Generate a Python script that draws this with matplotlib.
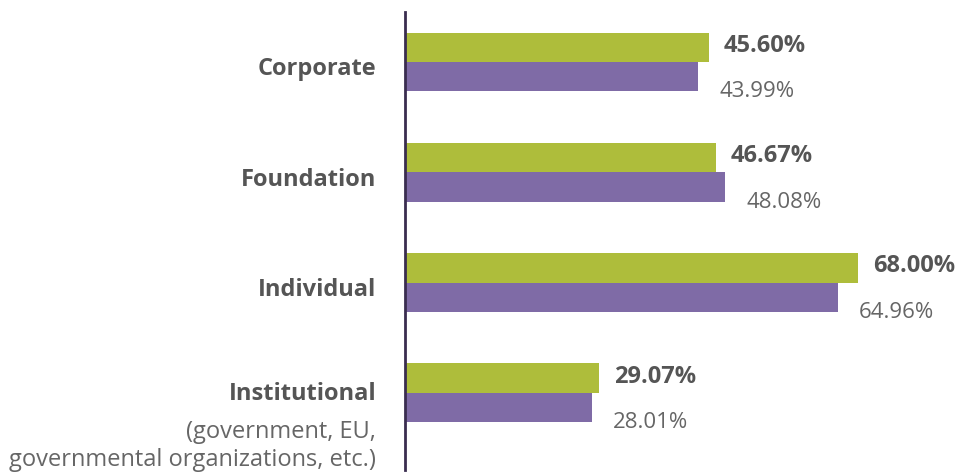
import matplotlib.pyplot as plt
import matplotlib.transforms as mtransforms
import numpy as np

plt.rcParams['font.family'] = ['Open Sans', 'DejaVu Sans']

categorias = ['Corporate', 'Foundation', 'Individual', 'Institutional']
subtitulo_inst = ['(government, EU,', 'governmental organizations, etc.)']
serie_verde = [45.60, 46.67, 68.00, 29.07]
serie_roxa = [43.99, 48.08, 64.96, 28.01]

COR_VERDE = '#AEBD3B'
COR_ROXA = '#7F6BA6'
COR_EIXO = '#3A2D4F'
COR_TEXTO = '#555555'
COR_TEXTO2 = '#666666'

fig = plt.figure(figsize=(9.57, 4.73), dpi=100)
ax = fig.add_axes([405 / 957, 1 - 470 / 473, 1 - 405 / 957, 458 / 473])

y = np.arange(len(categorias))
h = 0.267

bars_v = ax.barh(y - h / 2, serie_verde, height=h, color=COR_VERDE)
bars_r = ax.barh(y + h / 2, serie_roxa, height=h, color=COR_ROXA)

ax.set_xlim(0, 82.9)
ax.set_ylim(3.699, -0.453)

# rótulos de valor
for b in bars_v:
    ax.annotate(f'{b.get_width():.2f}%', xy=(b.get_width(), b.get_y() + b.get_height() / 2),
                xytext=(11, -3.2), textcoords='offset points', ha='left', va='baseline',
                fontsize=17, fontweight='bold', color=COR_TEXTO)
for b in bars_r:
    ax.annotate(f'{b.get_width():.2f}%', xy=(b.get_width(), b.get_y() + b.get_height()),
                xytext=(15.5, -4.3), textcoords='offset points', ha='left', va='baseline',
                fontsize=16, color=COR_TEXTO2)

# rótulos das categorias
trans = mtransforms.blended_transform_factory(ax.transAxes, ax.transData)
for i, cat in enumerate(categorias):
    dy = 0.12 if i < 3 else 0.065
    ax.text(-0.0525, i + dy, cat, transform=trans, ha='right', va='baseline',
            fontsize=17, fontweight='bold', color=COR_TEXTO)
for k, linha in enumerate(subtitulo_inst):
    ax.annotate(linha, xy=(-0.0525, 3.065), xycoords=trans,
                xytext=(0, -27 - 20.6 * k), textcoords='offset points',
                ha='right', va='baseline', fontsize=17, color=COR_TEXTO2)

for s in ['top', 'right', 'bottom']:
    ax.spines[s].set_visible(False)
ax.spines['left'].set_color(COR_EIXO)
ax.spines['left'].set_linewidth(2)
ax.set_xticks([])
ax.set_yticks([])

fig.savefig('out.png', dpi=100)
